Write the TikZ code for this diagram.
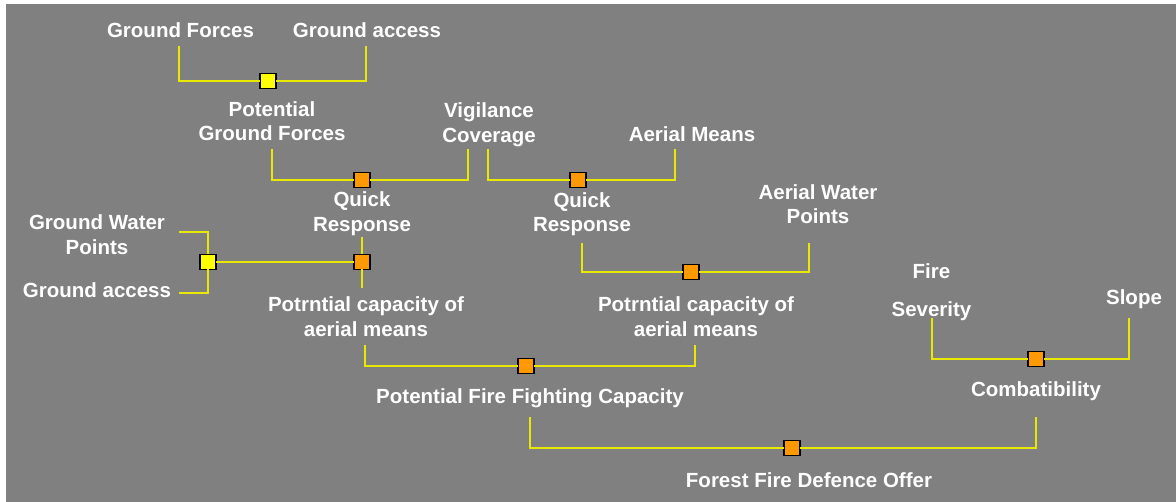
\documentclass[tikz,border=0pt]{standalone}
\usepackage{fontspec}
\setmainfont{Liberation Sans}
\definecolor{bggray}{RGB}{128,128,128}
\definecolor{lineyellow}{RGB}{232,232,0}
\definecolor{boxyellow}{RGB}{255,255,0}
\definecolor{boxorange}{RGB}{255,153,0}
\begin{document}
\begin{tikzpicture}[x=1pt,y=-1pt,
  lbl/.style={text=white,font=\fontsize{20.5}{24.5}\selectfont\bfseries,align=center,inner sep=0pt,yshift=-1.5pt},
  conn/.style={draw=lineyellow,line width=1.5pt},
  sqbox/.style={draw=black,line width=1.2pt,minimum width=16pt,minimum height=15pt,inner sep=0pt,outer sep=0pt},
  ysq/.style={sqbox,fill=boxyellow},
  osq/.style={sqbox,fill=boxorange}]
\useasboundingbox (0,0) rectangle (1176,502);
\fill[white] (0,0) rectangle (1176,502);
\fill[bggray] (6,4) rectangle (1176,502);

% labels
\node[lbl] (gf) at (180.5,29) {Ground Forces};
\node[lbl] (ga1) at (367,29) {Ground access};
\node[lbl] (pgf) at (272,119.5) {Potential\\Ground Forces};
\node[lbl] (vc) at (489,123) {Vigilance\\Coverage};
\node[lbl] (am) at (692,133) {Aerial Means};
\node[lbl] (qr1) at (362,212) {Quick\\Response};
\node[lbl] (qr2) at (582,212.5) {Quick\\Response};
\node[lbl] (awp) at (818,202.5) {Aerial Water\\Points};
\node[lbl] (gwp) at (97,233) {Ground Water\\Points};
\node[lbl] (ga2) at (97,289) {Ground access};
\node[lbl] (pc1) at (366,315) {Potrntial capacity of\\aerial means};
\node[lbl] (pc2) at (696,315) {Potrntial capacity of\\aerial means};
\node[lbl] (fs) at (931.5,290.5) {Fire\\[13pt]Severity};
\node[lbl] (sl) at (1134,298) {Slope};
\node[lbl] (pffc) at (530,397) {Potential Fire Fighting Capacity};
\node[lbl] (comb) at (1036,390) {Combatibility};
\node[lbl] (ffdo) at (809,479) {Forest Fire Defence Offer};

% squares
\node[ysq] (s1) at (268,81) {};
\node[osq] (s2) at (362,180) {};
\node[osq] (s3) at (578,180) {};
\node[osq] (s4) at (362,262) {};
\node[ysq] (s5) at (208,262) {};
\node[osq] (s6) at (691,272) {};
\node[osq] (s7) at (526,366) {};
\node[osq] (s8) at (1036,359) {};
\node[osq] (s9) at (792,448) {};

% connector end points
\coordinate (a1) at (179,46);   \coordinate (b1) at (366,46);
\coordinate (a2) at (272,149);  \coordinate (b2) at (468,149);
\coordinate (a3) at (488,149);  \coordinate (b3) at (675,149);
\coordinate (a4) at (362,237);  \coordinate (b4) at (362,288);
\coordinate (a5) at (179,232);  \coordinate (b5) at (179,293);
\coordinate (a6) at (582,243);  \coordinate (b6) at (809,243);
\coordinate (a7) at (365,345);  \coordinate (b7) at (695,345);
\coordinate (a8) at (932,318);  \coordinate (b8) at (1129,318);
\coordinate (a9) at (530,417);  \coordinate (b9) at (1036,417);

% connectors
\draw[conn] (a1) |- (s1) -| (b1);
\draw[conn] (a2) |- (s2) -| (b2);
\draw[conn] (a3) |- (s3) -| (b3);
\draw[conn] (a4) -- (s4) -- (b4);
\draw[conn] (a5) -| (s5) |- (b5);
\draw[conn] (s5) -- (s4);
\draw[conn] (a6) |- (s6) -| (b6);
\draw[conn] (a7) |- (s7) -| (b7);
\draw[conn] (a8) |- (s8) -| (b8);
\draw[conn] (a9) |- (s9) -| (b9);
\end{tikzpicture}
\end{document}
